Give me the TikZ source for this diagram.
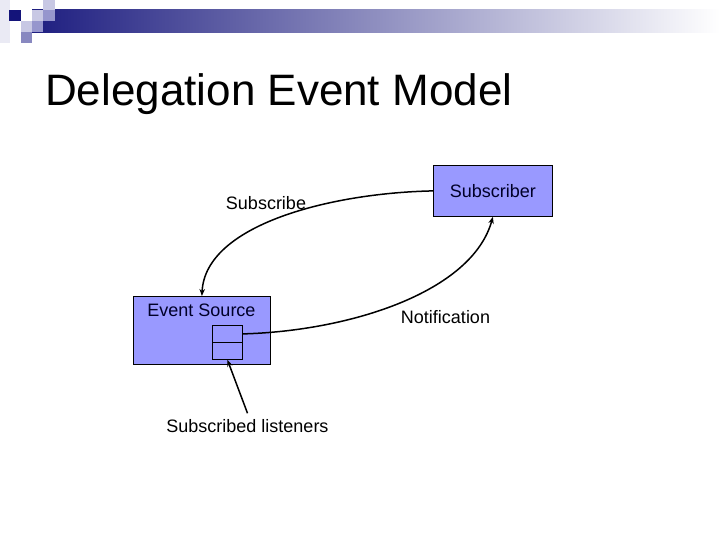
\documentclass[tikz,border=0pt]{standalone}
\usepackage{fontspec}
\setmainfont{Liberation Sans}
\usetikzlibrary{arrows.meta}
\definecolor{boxfill}{RGB}{153,153,255}
\definecolor{navy}{RGB}{20,20,122}
\definecolor{barnavy}{RGB}{30,30,128}
\definecolor{bargray}{RGB}{190,190,205}
\definecolor{sqlight}{RGB}{200,200,228}
\definecolor{sqmed}{RGB}{150,150,205}
\definecolor{sqpurple}{RGB}{136,136,192}
\definecolor{sqfaint}{RGB}{234,234,244}
\definecolor{boxtext}{RGB}{0,0,40}
\tikzset{
  box/.style={draw=black, line width=0.8pt, fill=boxfill, inner sep=0pt},
  cell/.style={draw=black, line width=0.8pt, fill=boxfill, minimum width=30pt, minimum height=17pt, inner sep=0pt},
  lbl/.style={font=\fontsize{18}{21}\selectfont, text=black, inner sep=2pt},
  conn/.style={line width=1.5pt, -{Stealth[length=7pt,width=5.5pt]}}
}
\begin{document}
\begin{tikzpicture}[x=1pt,y=-1pt]
\useasboundingbox (0,0) rectangle (720,540);
\fill[white] (0,0) rectangle (720,540);
% header bar
\shade[left color=barnavy, middle color=bargray, right color=white] (32,10) rectangle (720,33);
% pixel squares
\fill[sqfaint] (0,0) rectangle (10,43);
\fill[sqlight] (43,0) rectangle (55,10);
\fill[navy] (9,10) rectangle (21,21);
\fill[sqlight] (32,10) rectangle (43,21);
\fill[sqmed] (43,10) rectangle (55,21);
\fill[sqlight] (21,21) rectangle (32,32);
\fill[sqmed] (32,21) rectangle (43,32);
\fill[sqpurple] (21,32) rectangle (32,43);
% title
\node[anchor=base west, inner sep=0pt, font=\fontsize{44}{50}\selectfont] (title) at (45,106) {Delegation Event Model};
% boxes
\node[box, minimum width=137pt, minimum height=68pt, anchor=north west] (src) at (133,296) {};
\node[lbl, anchor=base, text=boxtext] (srclbl) at (201.5,316.5) {Event Source};
\node[cell, anchor=north west] (c1) at (212,325) {};
\node[cell, anchor=north west] (c2) at (212,342) {};
\node[box, lbl, text=boxtext, minimum width=119pt, minimum height=51pt, anchor=north west] (sub) at (433,165) {Subscriber};
% labels
\node[lbl, anchor=base] (subscribe) at (266,210) {Subscribe};
\node[lbl, anchor=base] (notif) at (445.5,323.5) {Notification};
\node[lbl, anchor=base] (lst) at (247.5,432.5) {Subscribed listeners};
% connectors
\draw[conn] (sub.west) .. controls (330,193) and (205,225) .. (src.north);
\draw[conn] (c1.east) .. controls (350,331) and (472,292) .. (sub.south);
\draw[conn] ([yshift=4pt]lst.north) -- (c2.south);
\end{tikzpicture}
\end{document}
